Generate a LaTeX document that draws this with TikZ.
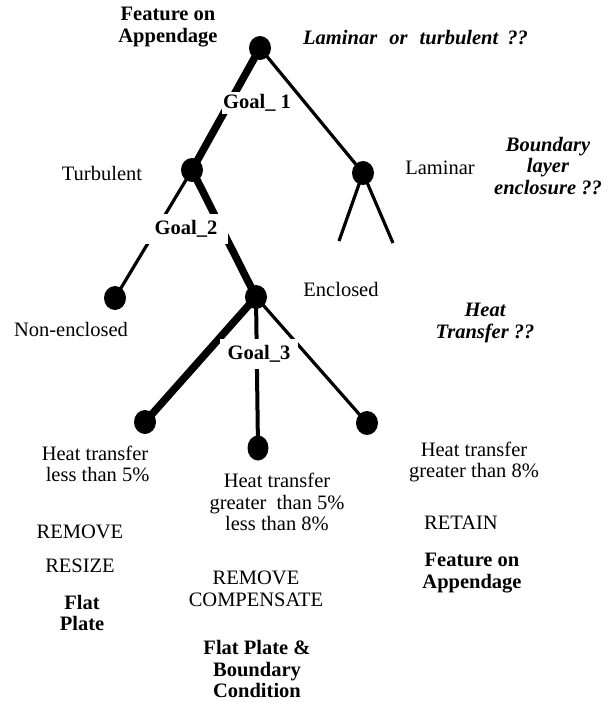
\documentclass[tikz,border=0pt]{standalone}
\usepackage{fontspec}
\setmainfont{Liberation Serif}
\usetikzlibrary{shapes.geometric}
\begin{document}
\begin{tikzpicture}[x=1pt,y=-1pt,
  dot/.style={ellipse,fill=black,inner sep=0pt,minimum width=22pt,minimum height=24pt},
  lbl/.style={align=center,inner sep=0pt,font=\fontsize{20.5}{21.5}\selectfont},
  bl/.style={align=center,inner sep=0pt,font=\fontsize{20.5}{21.5}\selectfont\bfseries},
  bi/.style={align=center,inner sep=0pt,font=\fontsize{20.5}{21.5}\selectfont\bfseries\itshape},
  goal/.style={bl,fill=white},
  wideline/.style={line width=7.5pt},
  midline/.style={line width=4pt},
  thinline/.style={line width=3.2pt}]
\useasboundingbox (0,0) rectangle (615,702);
% tree nodes
\node[dot] (R) at (260,48) {};
\node[dot] (T) at (192,170) {};
\node[dot] (L) at (363,173) {};
\node[dot] (N) at (115,298) {};
\node[dot] (E) at (256,297) {};
\node[dot] (C1) at (145,422) {};
\node[dot,minimum width=21pt,minimum height=25pt] (C2) at (258,448) {};
\node[dot] (C3) at (367,423) {};
\coordinate (l1) at (339,241);
\coordinate (l2) at (393,243);
% connectors
\draw[wideline] (R.center) -- (T.center);
\draw[thinline] (R.center) -- (L.center);
\draw[thinline] (T.center) -- (N.center);
\draw[wideline] (T.center) -- (E.center);
\draw[thinline] (L.center) -- (l1);
\draw[thinline] (L.center) -- (l2);
\draw[wideline] (E.center) -- (C1.center);
\draw[midline] (E.center) -- (C2.center);
\draw[thinline] (E.center) -- (C3.center);
% goal labels
\node[goal,inner xsep=1.5pt,inner ysep=2pt] (g1) at (257,103) {Goal\_ 1};
\node[goal,inner xsep=11pt,inner ysep=6pt] (g2) at (186,229) {Goal\_2};
\node[goal,inner xsep=7.5pt,inner ysep=6pt] (g3) at (259,354) {Goal\_3};
% texts
\node[bl] (topfeat) at (168,27) {Feature on\\Appendage};
\node[bi,anchor=west] (q1) at (303,38) {Laminar\hspace{7pt} or\hspace{7pt} turbulent\hspace{4pt} ??};
\node[lbl] (turb) at (102,173) {Turbulent};
\node[lbl] (lam) at (440,168) {Laminar};
\node[bi] (q2) at (548,166) {Boundary\\layer\\enclosure ??};
\node[lbl] (encl) at (341,289) {Enclosed};
\node[lbl] (nonencl) at (71,329) {Non-enclosed};
\node[bi] (q3) at (485,323) {Heat\\Transfer ??};
\node[lbl] (t1) at (95,464) {Heat transfer\\\ less than 5\%};
\node[lbl] (t2) at (277,502) {Heat transfer\\greater\ \ than 5\%\\less than 8\%};
\node[lbl] (t3) at (474,462) {Heat transfer\\greater than 8\%};
\node[lbl] (a1) at (80,532) {REMOVE};
\node[lbl] (a1b) at (80,566) {RESIZE};
\node[bl] (f1) at (82,613) {Flat\\Plate};
\node[lbl] (a2) at (256,589) {REMOVE\\COMPENSATE};
\node[bl] (f2) at (257,669) {Flat Plate \&\\Boundary\\Condition};
\node[lbl] (a3) at (461,523) {RETAIN};
\node[bl] (f3) at (472,573) {Feature on\\Appendage};
\end{tikzpicture}
\end{document}
